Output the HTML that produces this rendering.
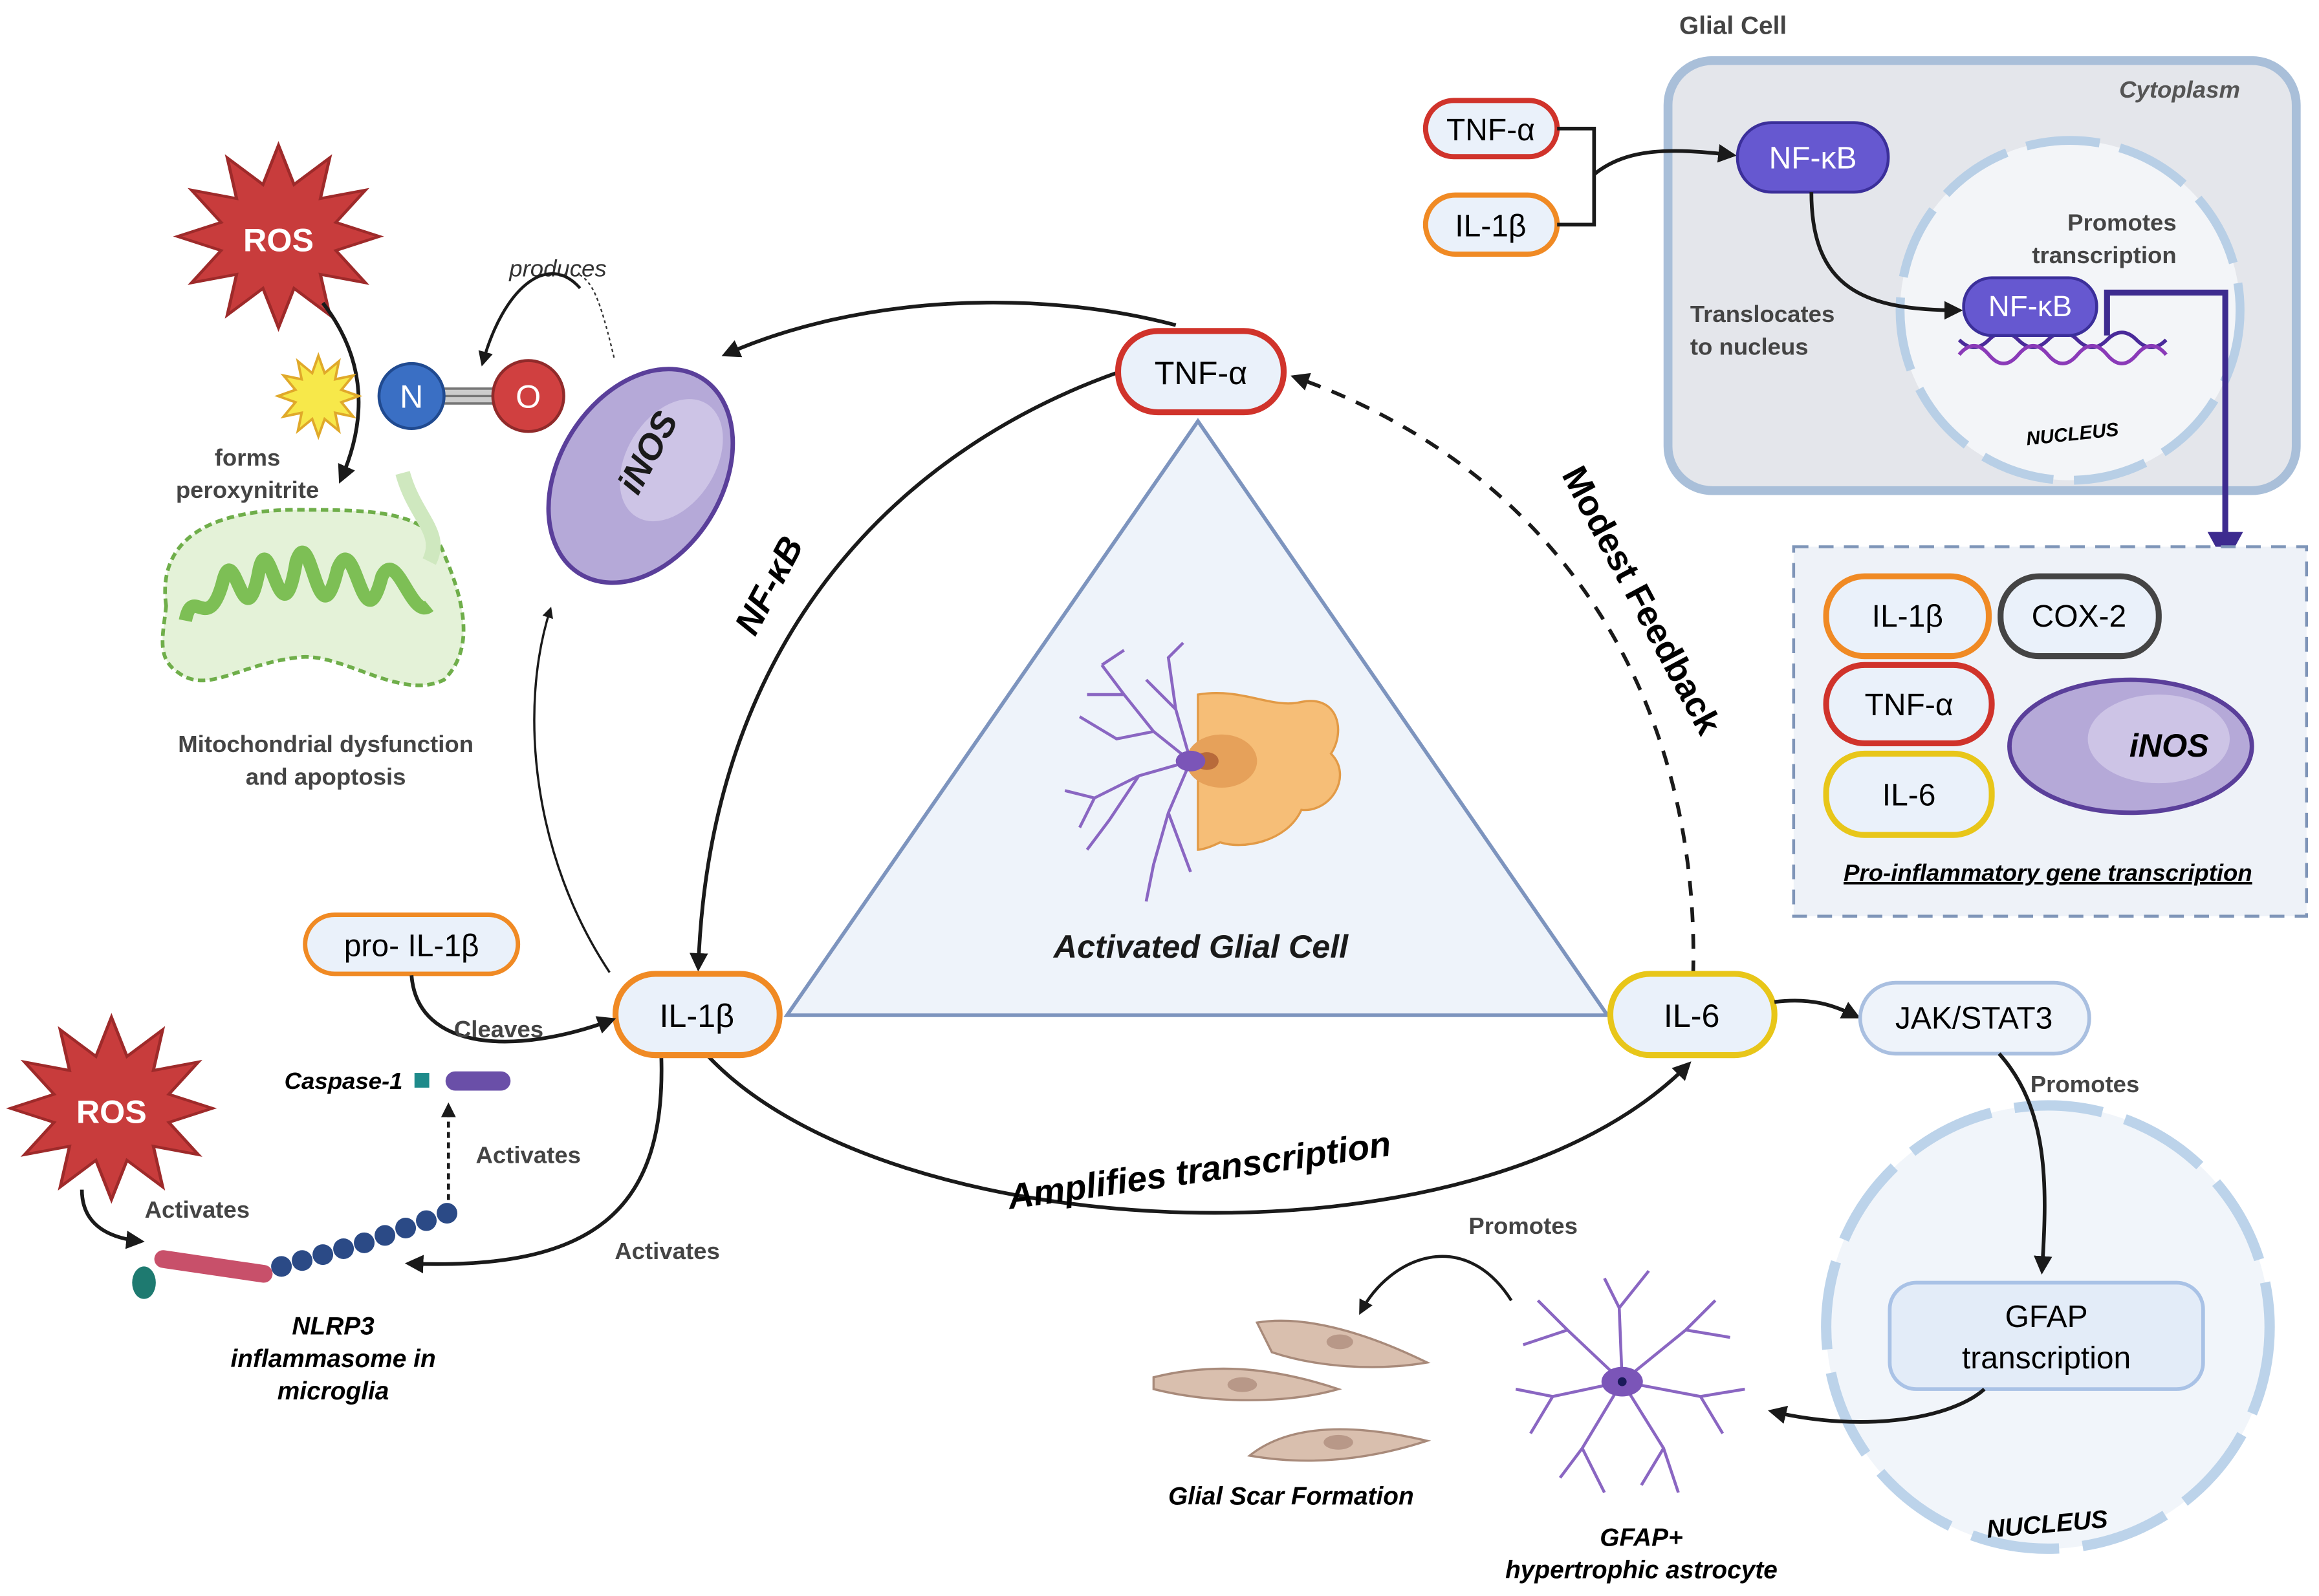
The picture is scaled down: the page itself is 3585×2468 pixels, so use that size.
<!DOCTYPE html>
<html><head><meta charset="utf-8"><style>
html,body{margin:0;padding:0;background:#fff}
svg{display:block}
text{font-family:"Liberation Sans",sans-serif}
</style></head><body>
<svg width="3585" height="2468" viewBox="0 0 1568 1080" xmlns="http://www.w3.org/2000/svg">
<defs>
<marker id="ah" viewBox="0 0 10 10" refX="8" refY="5" markerWidth="5" markerHeight="5" orient="auto-start-reverse"><path d="M0,0L10,5L0,10z" fill="#1a1a1a"/></marker>
<polygon id="star" points="65,0 37,10 56,33 27,27 33,56 10,37 0,65 -10,37 -33,56 -27,27 -56,33 -37,10 -65,0 -37,-10 -56,-33 -27,-27 -33,-56 -10,-37 0,-65 10,-37 33,-56 27,-27 56,-33 37,-10"/>
</defs>

<polygon points="810,285 532,687 1087,687" fill="#eef3fa" stroke="#7d94be" stroke-width="2.5"/>
<g>
<path d="M810,470 C840,465 860,480 880,475 C905,470 910,495 900,510 C915,525 900,550 880,548 C870,570 840,575 825,570 C815,575 810,575 810,575 Z" fill="#f6be77" stroke="#e29a46" stroke-width="1.5"/>
<ellipse cx="826" cy="515" rx="24" ry="18" fill="#e6a15a"/>
<ellipse cx="816" cy="515" rx="8" ry="6" fill="#b86a3a"/>
<g stroke="#8a66c2" stroke-width="2" fill="none">
<path d="M805,515 L780,495 L760,470 L745,450 M780,495 L755,500 L730,485 M805,515 L770,525 L740,540 L720,535 M770,525 L750,555 L735,575 M805,515 L790,550 L780,585 L775,610 M790,550 L805,590 M805,515 L795,480 L790,445 L800,435 M795,480 L775,460 M760,470 L735,470 M740,540 L730,560 M745,450 L760,440"/>
</g>
<ellipse cx="805" cy="515" rx="10" ry="7" fill="#7b55b8"/>
</g>
<text x="812" y="648" font-size="22" font-weight="bold" font-style="italic" text-anchor="middle" fill="#1a1a1a">Activated Glial Cell</text>

<path d="M756,252 C620,300 480,420 472,655" fill="none" stroke="#1a1a1a" stroke-width="2.5" marker-end="url(#ah)"/>
<text transform="translate(527,400) rotate(-62)" font-size="24" font-weight="bold" font-style="italic" text-anchor="middle">NF-κB</text>
<path d="M795,220 C700,195 580,200 490,240" fill="none" stroke="#1a1a1a" stroke-width="2.5" marker-end="url(#ah)"/>
<path d="M1145,660 C1150,480 1060,320 875,255" fill="none" stroke="#1a1a1a" stroke-width="2.5" stroke-dasharray="10,8" marker-end="url(#ah)"/>
<text transform="translate(1103,410) rotate(62)" font-size="24" font-weight="bold" text-anchor="middle">Modest Feedback</text>
<path d="M478,714 C600,845 1000,865 1142,720" fill="none" stroke="#1a1a1a" stroke-width="2.5" marker-end="url(#ah)"/>
<text transform="translate(812,800) rotate(-8)" font-size="24" font-weight="bold" font-style="italic" text-anchor="middle">Amplifies transcription</text>
<path d="M412,658 C360,580 350,480 372,412" fill="none" stroke="#1a1a1a" stroke-width="1.5" marker-end="url(#ah)"/>
<path d="M415,242 C405,200 400,190 390,185" fill="none" stroke="#333" stroke-width="1" stroke-dasharray="2,2"/>

<rect x="756" y="224" width="112" height="55" rx="27" fill="#eaf1fa" stroke="#d0332b" stroke-width="4"/>
<text x="812" y="260" font-size="22" text-anchor="middle">TNF-α</text>
<rect x="416" y="659" width="111" height="55" rx="27" fill="#eaf1fa" stroke="#f08a24" stroke-width="4"/>
<text x="471" y="695" font-size="22" text-anchor="middle">IL-1β</text>
<rect x="1089" y="659" width="111" height="55" rx="27" fill="#eaf1fa" stroke="#e8c619" stroke-width="4"/>
<text x="1144" y="695" font-size="22" text-anchor="middle">IL-6</text>

<use href="#star" transform="translate(188,160) scale(1.05,0.95)" fill="#c83c3c" stroke="#9e2a2a" stroke-width="2"/>
<text x="188" y="170" font-size="22" font-weight="bold" fill="#fff" text-anchor="middle">ROS</text>
<path d="M218,205 C245,240 250,280 230,325" fill="none" stroke="#1a1a1a" stroke-width="2.5" marker-end="url(#ah)"/>
<use href="#star" transform="translate(215,268) scale(0.42)" fill="#f7e84a" stroke="#e0a92a" stroke-width="4"/>
<rect x="295" y="262" width="45" height="12" fill="#ccc"/>
<path d="M295,263 H340 M295,268 H340 M295,273 H340" stroke="#777" stroke-width="1.5"/>
<circle cx="278" cy="268" r="22" fill="#3a6fc4" stroke="#204a90" stroke-width="2"/>
<text x="278" y="276" font-size="22" fill="#fff" text-anchor="middle">N</text>
<circle cx="357" cy="268" r="24" fill="#d04040" stroke="#902a2a" stroke-width="2"/>
<text x="357" y="276" font-size="22" fill="#fff" text-anchor="middle">O</text>
<text x="377" y="187" font-size="16" font-style="italic" fill="#333" text-anchor="middle">produces</text>
<path d="M392,195 C370,170 340,195 326,246" fill="none" stroke="#1a1a1a" stroke-width="2" marker-end="url(#ah)"/>
<text x="167" y="315" font-size="16" font-weight="bold" fill="#444" text-anchor="middle">forms</text>
<text x="167" y="337" font-size="16" font-weight="bold" fill="#444" text-anchor="middle">peroxynitrite</text>
<path d="M112,410 C105,360 150,345 200,345 C250,345 290,345 300,375 C315,410 320,440 300,460 C270,475 230,440 200,445 C160,450 140,470 120,455 C105,445 110,430 112,410 Z" fill="#e4f2d8" stroke="#6fae4a" stroke-width="2.5" stroke-dasharray="5,3"/>
<path d="M125,420 C130,395 140,430 150,395 C158,360 165,440 175,385 C182,355 190,440 200,380 C210,350 215,440 228,385 C240,355 245,440 258,390 C268,370 278,420 290,410" fill="none" stroke="#7dbf55" stroke-width="9" stroke-linejoin="round"/>
<path d="M272,320 C280,350 300,360 290,380" fill="none" stroke="#cfe8bf" stroke-width="10"/>
<text x="220" y="509" font-size="16" font-weight="bold" fill="#444" text-anchor="middle">Mitochondrial dysfunction</text>
<text x="220" y="531" font-size="16" font-weight="bold" fill="#444" text-anchor="middle">and apoptosis</text>
<g transform="translate(433,322) rotate(32)">
<ellipse cx="0" cy="0" rx="55" ry="78" fill="#b5a9d8" stroke="#5a3f9a" stroke-width="3"/>
<ellipse cx="12" cy="-20" rx="30" ry="45" fill="#cdc4e6"/>
</g>
<text transform="translate(445,310) rotate(-62)" font-size="24" font-weight="bold" font-style="italic" text-anchor="middle" fill="#1a1a1a">iNOS</text>

<rect x="206" y="619" width="144" height="40" rx="20" fill="#eaf1fa" stroke="#f08a24" stroke-width="3"/>
<text x="278" y="647" font-size="21" text-anchor="middle">pro- IL-1β</text>
<path d="M278,660 C282,712 350,714 414,690" fill="none" stroke="#1a1a1a" stroke-width="2.5" marker-end="url(#ah)"/>
<text x="337" y="702" font-size="16" font-weight="bold" fill="#444" text-anchor="middle">Cleaves</text>
<text x="232" y="737" font-size="16" font-weight="bold" font-style="italic" text-anchor="middle">Caspase-1</text>
<rect x="280" y="726" width="10" height="10" fill="#1e8a8a"/>
<rect x="301" y="725" width="44" height="13" rx="6.5" fill="#6a4fa8"/>
<path d="M303,812 L303,748" fill="none" stroke="#1a1a1a" stroke-width="2" stroke-dasharray="4,3" marker-end="url(#ah)"/>
<text x="357" y="787" font-size="16" font-weight="bold" fill="#444" text-anchor="middle">Activates</text>
<use href="#star" transform="translate(75,750) scale(1.05,0.95)" fill="#c83c3c" stroke="#9e2a2a" stroke-width="2"/>
<text x="75" y="760" font-size="22" font-weight="bold" fill="#fff" text-anchor="middle">ROS</text>
<path d="M55,805 C55,830 75,838 95,840" fill="none" stroke="#1a1a1a" stroke-width="2.5" marker-end="url(#ah)"/>
<text x="133" y="824" font-size="16" font-weight="bold" fill="#444" text-anchor="middle">Activates</text>
<line x1="110" y1="852" x2="178" y2="862" stroke="#c8506a" stroke-width="12" stroke-linecap="round"/>
<ellipse cx="97" cy="868" rx="8" ry="11" fill="#1e7a70"/>
<g fill="#2b4a86">
<circle cx="190" cy="857" r="7"/><circle cx="204" cy="853" r="7"/><circle cx="218" cy="849" r="7"/><circle cx="232" cy="845" r="7"/><circle cx="246" cy="841" r="7"/><circle cx="260" cy="836" r="7"/><circle cx="274" cy="831" r="7"/><circle cx="288" cy="826" r="7"/><circle cx="302" cy="821" r="7"/>
</g>
<path d="M447,716 C450,820 400,860 276,855" fill="none" stroke="#1a1a1a" stroke-width="2.5" marker-end="url(#ah)"/>
<text x="451" y="852" font-size="16" font-weight="bold" fill="#444" text-anchor="middle">Activates</text>
<text x="225" y="903" font-size="17" font-weight="bold" font-style="italic" text-anchor="middle">NLRP3</text>
<text x="225" y="925" font-size="17" font-weight="bold" font-style="italic" text-anchor="middle">inflammasome in</text>
<text x="225" y="947" font-size="17" font-weight="bold" font-style="italic" text-anchor="middle">microglia</text>

<text x="1172" y="23" font-size="17" font-weight="bold" fill="#444" text-anchor="middle">Glial Cell</text>
<rect x="1128" y="41" width="425" height="291" rx="30" fill="#e4e6eb" stroke="#a9bfd9" stroke-width="6"/>
<text x="1515" y="66" font-size="16" font-weight="bold" font-style="italic" fill="#555" text-anchor="end">Cytoplasm</text>
<circle cx="1400" cy="210" r="115" fill="#f3f5f8" stroke="#b8cfe6" stroke-width="6" stroke-dasharray="50,14"/>
<text x="1402" y="298" font-size="13" font-weight="bold" font-style="italic" text-anchor="middle" transform="rotate(-6 1402 298)">NUCLEUS</text>
<rect x="964" y="68" width="89" height="38" rx="19" fill="#eaf1fa" stroke="#d0332b" stroke-width="3.5"/>
<text x="1008" y="95" font-size="21" text-anchor="middle">TNF-α</text>
<rect x="964" y="132" width="89" height="40" rx="20" fill="#eaf1fa" stroke="#f08a24" stroke-width="3.5"/>
<text x="1008" y="160" font-size="21" text-anchor="middle">IL-1β</text>
<path d="M1053,87 H1078 V152 H1053" fill="none" stroke="#1a1a1a" stroke-width="2.5"/>
<path d="M1078,118 C1100,100 1130,100 1172,105" fill="none" stroke="#1a1a1a" stroke-width="2.5" marker-end="url(#ah)"/>
<rect x="1175" y="83" width="102" height="47" rx="23" fill="#6658d0" stroke="#3b2f9a" stroke-width="2"/>
<text x="1226" y="114" font-size="21" fill="#fff" text-anchor="middle">NF-κB</text>
<path d="M1225,130 C1225,195 1260,210 1325,210" fill="none" stroke="#1a1a1a" stroke-width="2.5" marker-end="url(#ah)"/>
<text x="1143" y="218" font-size="16" font-weight="bold" fill="#444">Translocates</text>
<text x="1143" y="240" font-size="16" font-weight="bold" fill="#444">to nucleus</text>
<text x="1472" y="156" font-size="16" font-weight="bold" fill="#444" text-anchor="end">Promotes</text>
<text x="1472" y="178" font-size="16" font-weight="bold" fill="#444" text-anchor="end">transcription</text>
<path d="M1325,230 Q1335,240 1345,230 T1365,230 T1385,230 T1405,230 T1425,230 T1445,230 T1465,230" fill="none" stroke="#4a2a9a" stroke-width="2.5"/>
<path d="M1325,240 Q1335,228 1345,240 T1365,240 T1385,240 T1405,240 T1425,240 T1445,240 T1465,240" fill="none" stroke="#8a3ab8" stroke-width="2.5"/>
<rect x="1328" y="188" width="90" height="39" rx="19" fill="#6658d0" stroke="#3b2f9a" stroke-width="2"/>
<text x="1373" y="214" font-size="20" fill="#fff" text-anchor="middle">NF-κB</text>
<path d="M1425,227 V198 H1505 V370" fill="none" stroke="#3d2b8f" stroke-width="4"/>
<path d="M1493,360 L1517,360 L1505,382 Z" fill="#3d2b8f"/>

<rect x="1213" y="370" width="347" height="250" fill="#eef2f8" stroke="#7f95b8" stroke-width="2" stroke-dasharray="10,7"/>
<rect x="1235" y="390" width="110" height="54" rx="26" fill="#eaf1fa" stroke="#f08a24" stroke-width="4"/>
<text x="1290" y="424" font-size="21" text-anchor="middle">IL-1β</text>
<rect x="1353" y="390" width="107" height="54" rx="26" fill="#eaf1fa" stroke="#444" stroke-width="4"/>
<text x="1406" y="424" font-size="21" text-anchor="middle">COX-2</text>
<rect x="1235" y="450" width="112" height="53" rx="26" fill="#eaf1fa" stroke="#d0332b" stroke-width="4"/>
<text x="1291" y="484" font-size="21" text-anchor="middle">TNF-α</text>
<rect x="1235" y="510" width="112" height="55" rx="26" fill="#eaf1fa" stroke="#e8c619" stroke-width="4"/>
<text x="1291" y="545" font-size="21" text-anchor="middle">IL-6</text>
<ellipse cx="1441" cy="505" rx="82" ry="45" fill="#b5a9d8" stroke="#5a3f9a" stroke-width="3"/>
<ellipse cx="1460" cy="500" rx="48" ry="30" fill="#cdc4e6"/>
<text x="1467" y="512" font-size="22" font-weight="bold" font-style="italic" text-anchor="middle">iNOS</text>
<text x="1385" y="596" font-size="16" font-weight="bold" font-style="italic" text-anchor="middle" text-decoration="underline">Pro-inflammatory gene transcription</text>

<path d="M1200,678 C1225,675 1240,680 1256,688" fill="none" stroke="#1a1a1a" stroke-width="2.5" marker-end="url(#ah)"/>
<rect x="1258" y="665" width="155" height="48" rx="24" fill="#eef3fa" stroke="#a9bfe0" stroke-width="2.5"/>
<text x="1335" y="696" font-size="21" text-anchor="middle">JAK/STAT3</text>
<circle cx="1385" cy="898" r="150" fill="#f1f5fa" stroke="#bcd3ea" stroke-width="7" stroke-dasharray="60,16"/>
<text x="1385" y="1037" font-size="17" font-weight="bold" font-style="italic" text-anchor="middle" transform="rotate(-5 1385 1037)">NUCLEUS</text>
<text x="1410" y="739" font-size="16" font-weight="bold" fill="#444" text-anchor="middle">Promotes</text>
<path d="M1352,713 C1385,750 1385,800 1381,860" fill="none" stroke="#1a1a1a" stroke-width="2.5" marker-end="url(#ah)"/>
<rect x="1278" y="868" width="212" height="72" rx="18" fill="#e3ecf8" stroke="#a9c2e6" stroke-width="2.5"/>
<text x="1384" y="898" font-size="21" text-anchor="middle">GFAP</text>
<text x="1384" y="926" font-size="21" text-anchor="middle">transcription</text>
<path d="M1342,940 C1320,960 1260,970 1198,955" fill="none" stroke="#1a1a1a" stroke-width="2.5" marker-end="url(#ah)"/>

<g stroke="#8a66c2" stroke-width="2" fill="none">
<path d="M1097,935 L1060,900 L1040,880 M1060,900 L1030,910 M1097,935 L1095,885 L1085,865 M1095,885 L1115,860 M1097,935 L1140,900 L1160,880 M1140,900 L1170,905 M1097,935 L1150,945 L1180,940 M1150,945 L1165,970 M1097,935 L1125,980 L1135,1010 M1125,980 L1110,1005 M1097,935 L1070,980 L1055,1000 M1070,980 L1085,1010 M1097,935 L1050,945 L1025,940 M1050,945 L1035,970"/>
</g>
<ellipse cx="1097" cy="935" rx="14" ry="10" fill="#7b55b8"/>
<circle cx="1097" cy="935" r="3" fill="#1a1a5a"/>
<text x="1030" y="835" font-size="16" font-weight="bold" fill="#444" text-anchor="middle">Promotes</text>
<path d="M1022,880 C990,830 940,850 920,888" fill="none" stroke="#1a1a1a" stroke-width="2" marker-end="url(#ah)"/>
<g fill="#d9bfae" stroke="#a88a7a" stroke-width="1.5">
<path d="M850,895 C880,890 920,900 965,922 C930,928 890,925 860,915 Z"/>
<path d="M780,932 C820,922 860,925 905,940 C870,950 820,950 780,940 Z"/>
<path d="M845,985 C870,965 910,962 965,975 C925,988 885,992 845,985 Z"/>
</g>
<g fill="#b89888"><ellipse cx="906" cy="908" rx="9" ry="5"/><ellipse cx="840" cy="937" rx="10" ry="5"/><ellipse cx="905" cy="976" rx="10" ry="5"/></g>
<text x="873" y="1018" font-size="17" font-weight="bold" font-style="italic" text-anchor="middle">Glial Scar Formation</text>
<text x="1110" y="1046" font-size="17" font-weight="bold" font-style="italic" text-anchor="middle">GFAP+</text>
<text x="1110" y="1068" font-size="17" font-weight="bold" font-style="italic" text-anchor="middle">hypertrophic astrocyte</text>
</svg>
</body></html>
